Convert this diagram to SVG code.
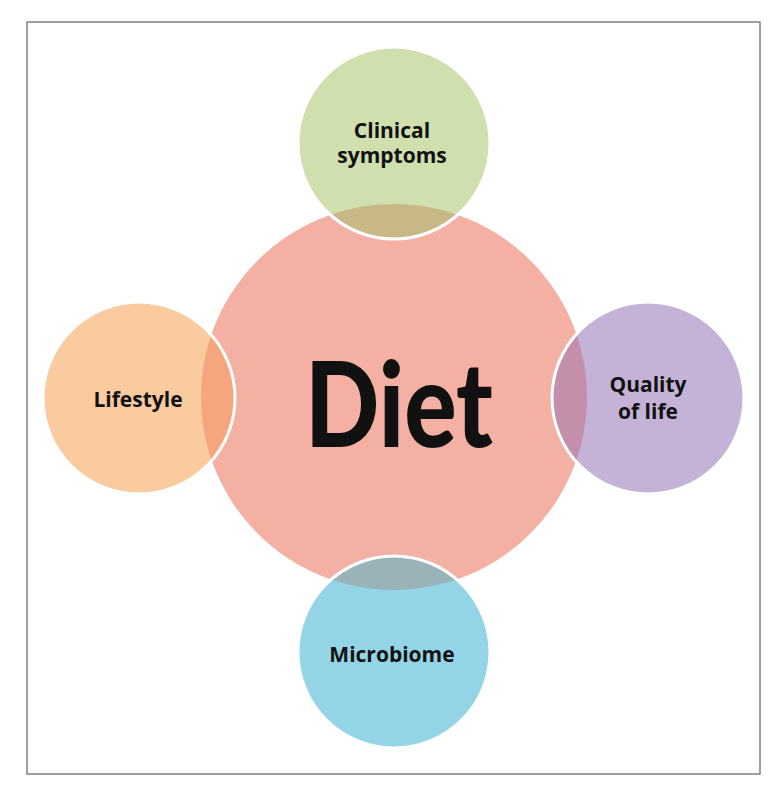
<svg xmlns="http://www.w3.org/2000/svg" width="783" height="791" viewBox="0 0 783 791">
<style>
.lbl{font-family:"Open Sans","Noto Sans","Liberation Sans",sans-serif;font-weight:bold;font-size:21px;fill:#111;text-anchor:middle}
.ring{fill:none;stroke:#fff;stroke-width:3}
</style>
<defs>
<clipPath id="cTop"><circle cx="394" cy="143" r="96"/></clipPath>
<clipPath id="cLeft"><circle cx="139" cy="398" r="96"/></clipPath>
<clipPath id="cRight"><circle cx="648" cy="398" r="96"/></clipPath>
<clipPath id="cBottom"><circle cx="394" cy="652" r="96"/></clipPath>
</defs>
<rect x="27" y="22" width="733" height="752" fill="#fff" stroke="#808080" stroke-width="1.5"/>
<g id="diet">
<circle cx="394" cy="397" r="193" fill="#f4b0a2"/>
<text x="399" y="447" font-family="Lato,'Open Sans','Liberation Sans',sans-serif" font-weight="900" font-size="118" fill="#111" text-anchor="middle" textLength="188" lengthAdjust="spacingAndGlyphs">Diet</text>
</g>
<g id="clinical">
<circle cx="394" cy="143" r="96" fill="#cfdfae"/>
<circle cx="394" cy="397" r="193" fill="#c8b886" clip-path="url(#cTop)"/>
<circle class="ring" cx="394" cy="143" r="96"/>
<text class="lbl"><tspan x="392" y="138">Clinical</tspan><tspan x="392" y="163">symptoms</tspan></text>
</g>
<g id="lifestyle">
<circle cx="139" cy="398" r="96" fill="#fbcba0"/>
<circle cx="394" cy="397" r="193" fill="#f5a67d" clip-path="url(#cLeft)"/>
<circle class="ring" cx="139" cy="398" r="96"/>
<text class="lbl" x="138" y="407">Lifestyle</text>
</g>
<g id="quality">
<circle cx="648" cy="398" r="96" fill="#c5b3d7"/>
<circle cx="394" cy="397" r="193" fill="#c48fab" clip-path="url(#cRight)"/>
<circle class="ring" cx="648" cy="398" r="96"/>
<text class="lbl"><tspan x="648" y="392">Quality</tspan><tspan x="648" y="419">of life</tspan></text>
</g>
<g id="microbiome">
<circle cx="394" cy="652" r="96" fill="#93d5e6"/>
<circle cx="394" cy="397" r="193" fill="#99b3b8" clip-path="url(#cBottom)"/>
<circle class="ring" cx="394" cy="652" r="96"/>
<text class="lbl" x="392" y="662">Microbiome</text>
</g>
<g id="connectors"/>
</svg>
